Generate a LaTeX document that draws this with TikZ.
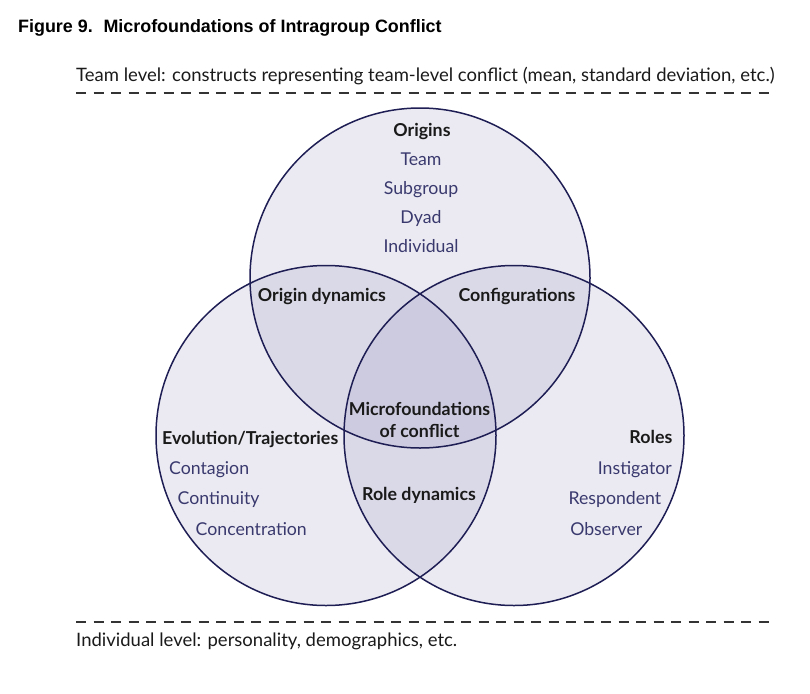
\documentclass[tikz,border=0pt]{standalone}
\usepackage{fontspec}
\setmainfont{Lato}
\newfontfamily\titlefont{Liberation Sans}
\definecolor{vennline}{RGB}{30,29,84}
\definecolor{vennfill}{RGB}{142,139,184}
\definecolor{itemtext}{RGB}{58,57,110}
\definecolor{headtext}{RGB}{26,26,26}
\tikzset{
  venn/.style={fill=vennfill, fill opacity=0.18},
  vennedge/.style={draw=vennline, line width=1.5pt},
  head/.style={inner sep=0pt, text=headtext, font=\bfseries\fontsize{17.8}{20}\selectfont},
  item/.style={inner sep=0pt, text=itemtext, font=\fontsize{17.7}{20}\selectfont},
  levelline/.style={draw=black!80, line width=2.5pt, dash pattern=on 10pt off 7.5pt},
  leveltext/.style={inner sep=0pt, anchor=base west, text=headtext, font=\fontsize{18.5}{21}\selectfont}
}
\begin{document}
\begin{tikzpicture}[x=1pt,y=-1pt]
\useasboundingbox (0,0) rectangle (810,693);

\node[anchor=base west, inner sep=0pt, font=\titlefont\bfseries\fontsize{17.9}{20}\selectfont] (title) at (18,33) {Figure 9.\hspace{0.6em}Microfoundations of Intragroup Conflict};

% team level
\node[leveltext] (teamlevel) at (76,81) {Team level: constructs representing team-level conflict (mean, standard deviation, etc.)};
\draw[levelline] (76,93) -- (774,93);

% the three circles
\coordinate (topc) at (420,278);
\coordinate (leftc) at (326,435.5);
\coordinate (rightc) at (514,435.5);
\foreach \c in {topc,leftc,rightc}
  \fill[venn] (\c) circle (170pt);
\foreach \c in {topc,leftc,rightc}
  \draw[vennedge] (\c) circle (170pt);

% origins
\node[head, anchor=base] (origins) at (422,136) {Origins};
\node[item, anchor=base] (team) at (421,165) {Team};
\node[item, anchor=base] (subgroup) at (421,194) {Subgroup};
\node[item, anchor=base] (dyad) at (421,223) {Dyad};
\node[item, anchor=base] (individual) at (421,252) {Individual};

% overlaps
\node[head, anchor=base] (origindyn) at (322,301) {Origin dynamics};
\node[head, anchor=base] (configs) at (517,301) {Configurations};
\node[head, anchor=base] (micro) at (419.5,415) {Microfoundations};
\node[head, anchor=base] (ofconflict) at (419.5,437) {of conflict};
\node[head, anchor=base] (roledyn) at (419,500) {Role dynamics};

% evolution
\node[head, anchor=base west] (evolution) at (162,444) {Evolution/Trajectories};
\node[item, anchor=base west] (contagion) at (169,474) {Contagion};
\node[item, anchor=base west] (continuity) at (177.5,504) {Continuity};
\node[item, anchor=base west] (concentration) at (195.5,535) {Concentration};

% roles
\node[head, anchor=base east] (roles) at (672.5,443) {Roles};
\node[item, anchor=base east] (instigator) at (672,474) {Instigator};
\node[item, anchor=base east] (respondent) at (661.5,504) {Respondent};
\node[item, anchor=base east] (observer) at (642.5,535) {Observer};

% individual level
\draw[levelline] (76,622) -- (774,622);
\node[leveltext] (indlevel) at (76,646) {Individual level: personality, demographics, etc.};
\end{tikzpicture}
\end{document}
